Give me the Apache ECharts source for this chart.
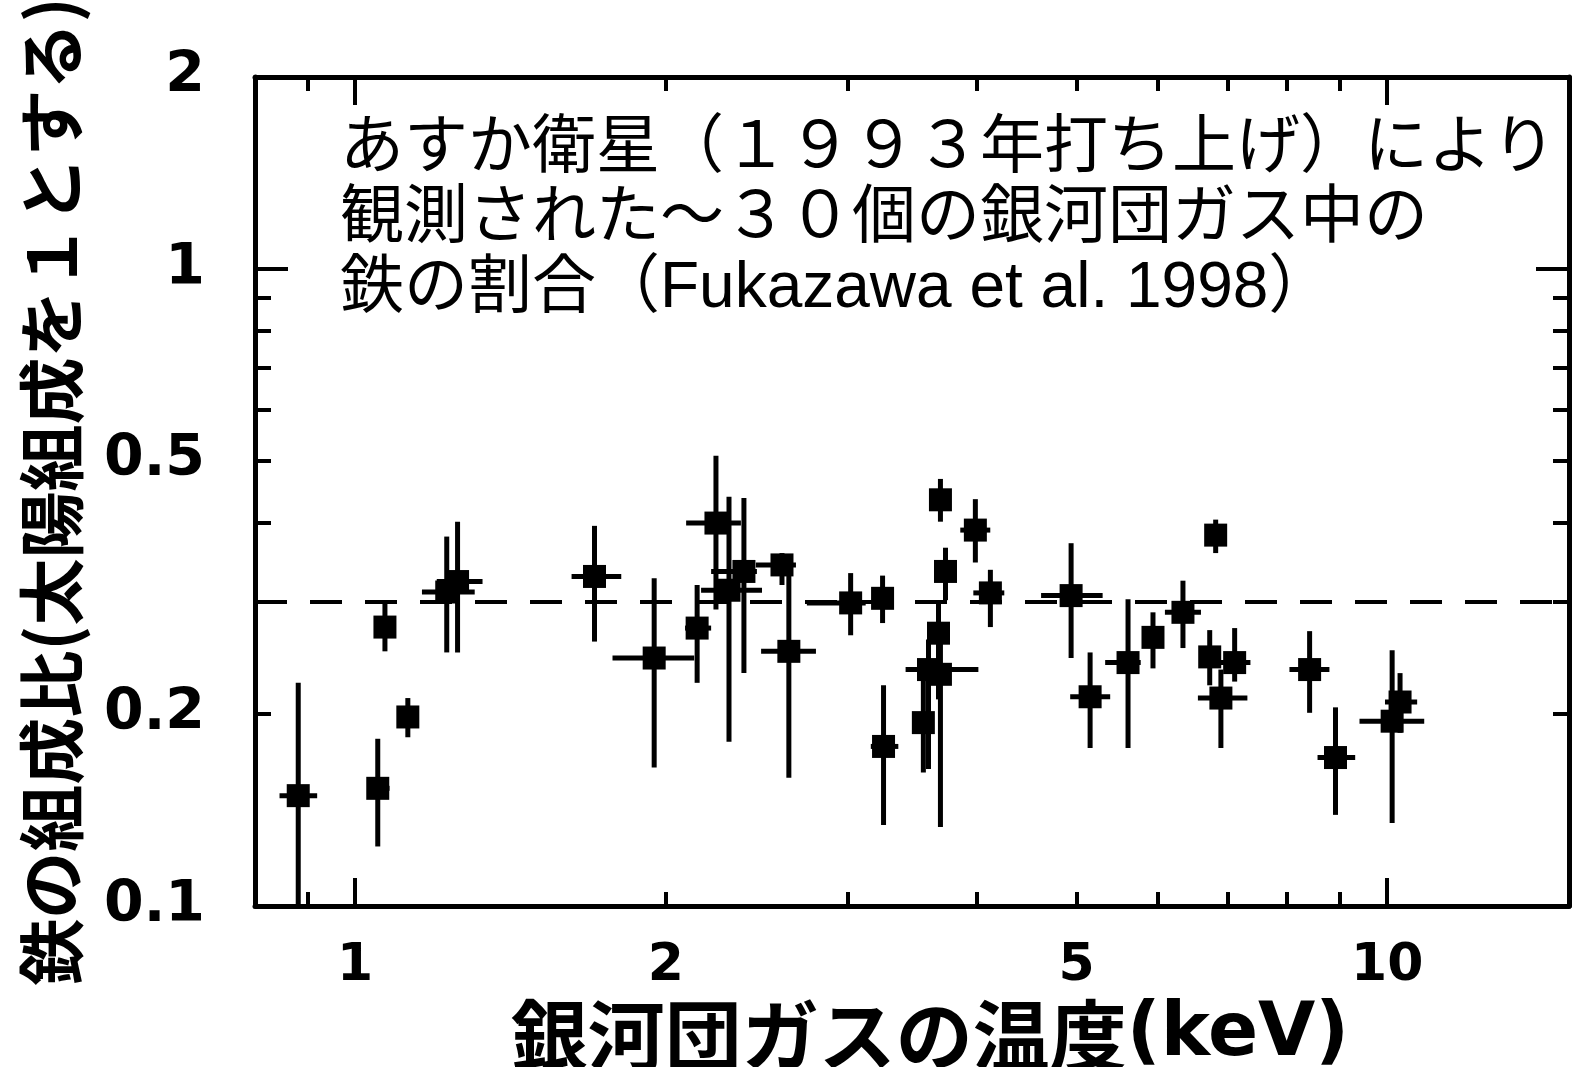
<!DOCTYPE html>
<html>
<head>
<meta charset="utf-8">
<script src="https://cdn.jsdelivr.net/npm/echarts@6/dist/echarts.min.js"></script>
<style>
  html, body { margin: 0; padding: 0; background: #fff; }
  #chart { width: 1573px; height: 1067px; }
</style>
</head>
<body>
<div id="chart"></div>
<script>
// Gas temperature (keV) of each cluster with its lower / upper bound
const temps   = [0.881, 1.052, 1.069, 1.125, 1.227, 1.257, 1.706, 1.949, 2.145, 2.237,
                 2.303, 2.381, 2.592, 2.632, 3.021, 3.244, 3.251, 3.553, 3.594, 3.675,
                 3.691, 3.691, 3.733, 3.990, 4.126, 4.940, 5.154, 5.609, 5.930, 6.340,
                 6.730, 6.820, 6.900, 7.115, 8.410, 8.910, 10.11, 10.29];
const tempLo  = [0.845, 1.030, 1.050, 1.110, 1.161, 1.200, 1.621, 1.776, 2.088, 2.093,
                 2.164, 2.213, 2.445, 2.474, 2.740, 3.168, 3.160, 3.500, 3.415, 3.620,
                 3.640, 3.620, 3.670, 3.858, 3.972, 4.620, 4.930, 5.330, 5.840, 6.090,
                 6.630, 6.720, 6.555, 6.810, 8.040, 8.560, 9.400, 9.950];
const tempHi  = [0.919, 1.080, 1.090, 1.140, 1.306, 1.329, 1.811, 2.131, 2.213, 2.365,
                 2.479, 2.451, 2.674, 2.796, 3.124, 3.327, 3.360, 3.610, 4.017, 3.730,
                 3.740, 3.770, 3.800, 4.125, 4.256, 5.300, 5.390, 5.770, 6.020, 6.600,
                 6.840, 6.920, 7.320, 7.370, 8.790, 9.310, 10.86, 10.69];
// Iron abundance relative to solar, with lower / upper bound
const iron    = [0.149, 0.153, 0.274, 0.198, 0.311, 0.323, 0.329, 0.245, 0.273, 0.399,
                 0.313, 0.335, 0.343, 0.251, 0.299, 0.304, 0.178, 0.194, 0.235, 0.268,
                 0.231, 0.434, 0.335, 0.389, 0.310, 0.307, 0.213, 0.241, 0.264, 0.289,
                 0.246, 0.382, 0.212, 0.241, 0.235, 0.171, 0.195, 0.209];
const ironLo  = [0.095, 0.124, 0.251, 0.184, 0.250, 0.250, 0.260, 0.165, 0.224, 0.292,
                 0.181, 0.232, 0.319, 0.159, 0.266, 0.278, 0.134, 0.162, 0.164, 0.211,
                 0.133, 0.401, 0.302, 0.346, 0.274, 0.245, 0.177, 0.177, 0.236, 0.254,
                 0.222, 0.358, 0.177, 0.225, 0.201, 0.139, 0.135, 0.187];
const ironHi  = [0.224, 0.183, 0.300, 0.212, 0.380, 0.401, 0.395, 0.327, 0.319, 0.509,
                 0.439, 0.437, 0.358, 0.352, 0.333, 0.330, 0.222, 0.243, 0.262, 0.302,
                 0.262, 0.468, 0.365, 0.435, 0.337, 0.371, 0.250, 0.303, 0.289, 0.324,
                 0.271, 0.404, 0.235, 0.273, 0.270, 0.205, 0.252, 0.232];

// Mean abundance drawn as the dashed reference line
const meanIron = 0.3;

// Axis ranges, tick positions and labels
const tempRange   = [0.8, 15];
const ironRange   = [0.1, 2];
const tempLabels  = [1, 2, 5, 10];
const tempMajor   = [1, 10];
const tempMinor   = [0.9, 2, 3, 4, 5, 6, 7, 8, 9];
const ironLabels  = [0.1, 0.2, 0.5, 1, 2];
const ironMajor   = [1];
const ironMinor   = [0.2, 0.3, 0.4, 0.5, 0.6, 0.7, 0.8, 0.9];

const xTitleMain = '銀河団ガスの温度';
const xTitleUnit = '(keV)';
const yTitle = '鉄の組成比(太陽組成を１とする)';
const note = [
  'あすか衛星（１９９３年打ち上げ）により',
  '観測された～３０個の銀河団ガス中の',
  '鉄の割合（Fukazawa et al. 1998）'
];

const ink = '#000';
const labelFont = '"DejaVu Sans", "Liberation Sans", sans-serif';
const cjkFont = '"Noto Sans CJK JP", sans-serif';

function logAxis(range, extra) {
  const base = {
    type: 'log',
    logBase: 10,
    min: range[0],
    max: range[1],
    splitLine: { show: false },
    axisLine: { show: false },
    axisTick: { show: false },
    axisLabel: { show: false }
  };
  return Object.assign(base, extra);
}

function frameLine() {
  return { show: true, onZero: false, lineStyle: { color: ink, width: 5 } };
}

function ticks(values, len) {
  return { show: true, inside: true, length: len, customValues: values,
           lineStyle: { color: ink, width: 4 } };
}

const xAxes = [
  logAxis(tempRange, {
    position: 'bottom',
    axisLine: frameLine(),
    axisTick: ticks(tempMajor, 28),
    axisLabel: {
      show: true, customValues: tempLabels, margin: 34,
      showMinLabel: true, showMaxLabel: true,
      formatter: v => String(v),
      fontFamily: labelFont, fontWeight: 'bold', fontSize: 52, color: ink
    },
    name: '{main|' + xTitleMain + '}{unit|' + xTitleUnit + '}',
    nameLocation: 'middle',
    nameGap: 86,
    nameTextStyle: {
      padding: [0, 0, 0, 36],
      rich: {
        main: { fontFamily: cjkFont, fontWeight: 'bold', fontSize: 77, color: ink },
        unit: { fontFamily: labelFont, fontWeight: 'bold', fontSize: 74, color: ink }
      }
    }
  }),
  logAxis(tempRange, { position: 'bottom', axisTick: ticks(tempMinor, 14) }),
  logAxis(tempRange, { position: 'top', axisLine: frameLine(), axisTick: ticks(tempMajor, 28) }),
  logAxis(tempRange, { position: 'top', axisTick: ticks(tempMinor, 14) })
];

const yAxes = [
  logAxis(ironRange, {
    position: 'left',
    axisLine: frameLine(),
    axisTick: ticks(ironMajor, 33),
    axisLabel: {
      show: true, customValues: ironLabels, margin: 50,
      showMinLabel: true, showMaxLabel: true,
      formatter: v => String(v),
      fontFamily: labelFont, fontWeight: 'bold', fontSize: 57, color: ink
    },
    name: yTitle,
    nameLocation: 'middle',
    nameRotate: 90,
    nameGap: 170,
    nameTextStyle: { fontFamily: cjkFont, fontWeight: 'bold', fontSize: 67, color: ink }
  }),
  logAxis(ironRange, { position: 'left', axisTick: ticks(ironMinor, 16) }),
  logAxis(ironRange, { position: 'right', axisLine: frameLine(), axisTick: ticks(ironMajor, 33) }),
  logAxis(ironRange, { position: 'right', axisTick: ticks(ironMinor, 16) })
];

// Rows for the error-bar series: [T, Fe, Tlo, Thi, Felo, Fehi]
const barRows = temps.map((t, i) => [t, iron[i], tempLo[i], tempHi[i], ironLo[i], ironHi[i]]);
const pointRows = temps.map((t, i) => [t, iron[i]]);

function renderErrorBars(params, api) {
  const x = api.value(0), y = api.value(1);
  const left = api.coord([api.value(2), y]);
  const right = api.coord([api.value(3), y]);
  const low = api.coord([x, api.value(4)]);
  const high = api.coord([x, api.value(5)]);
  const style = { stroke: ink, lineWidth: 5 };
  return {
    type: 'group',
    children: [
      { type: 'line', shape: { x1: left[0], y1: left[1], x2: right[0], y2: right[1] }, style },
      { type: 'line', shape: { x1: low[0], y1: low[1], x2: high[0], y2: high[1] }, style }
    ]
  };
}

const chart = echarts.init(document.getElementById('chart'), null, { renderer: 'canvas' });
chart.setOption({
  animation: false,
  backgroundColor: '#fff',
  grid: { left: 255, top: 77, width: 1314, height: 829, containLabel: false, outerBoundsMode: 'none' },
  xAxis: xAxes,
  yAxis: yAxes,
  graphic: [{
    type: 'text',
    left: 340,
    top: 114,
    z: 10,
    style: {
      text: note.join('\n'),
      font: '64px "Liberation Sans", "Noto Sans CJK JP", sans-serif',
      lineHeight: 70,
      fill: ink
    }
  }],
  series: [
    {
      type: 'custom',
      name: 'error',
      xAxisIndex: 0,
      yAxisIndex: 0,
      clip: true,
      renderItem: renderErrorBars,
      encode: { x: 0, y: 1 },
      data: barRows,
      z: 2
    },
    {
      type: 'scatter',
      name: 'Fe',
      xAxisIndex: 0,
      yAxisIndex: 0,
      symbol: 'rect',
      symbolSize: 23,
      itemStyle: { color: ink, opacity: 1 },
      data: pointRows,
      z: 3,
      markLine: {
        silent: true,
        symbol: 'none',
        label: { show: false },
        lineStyle: { color: ink, width: 4, type: [32, 23] },
        data: [{ yAxis: meanIron }]
      }
    }
  ]
});
</script>
</body>
</html>
